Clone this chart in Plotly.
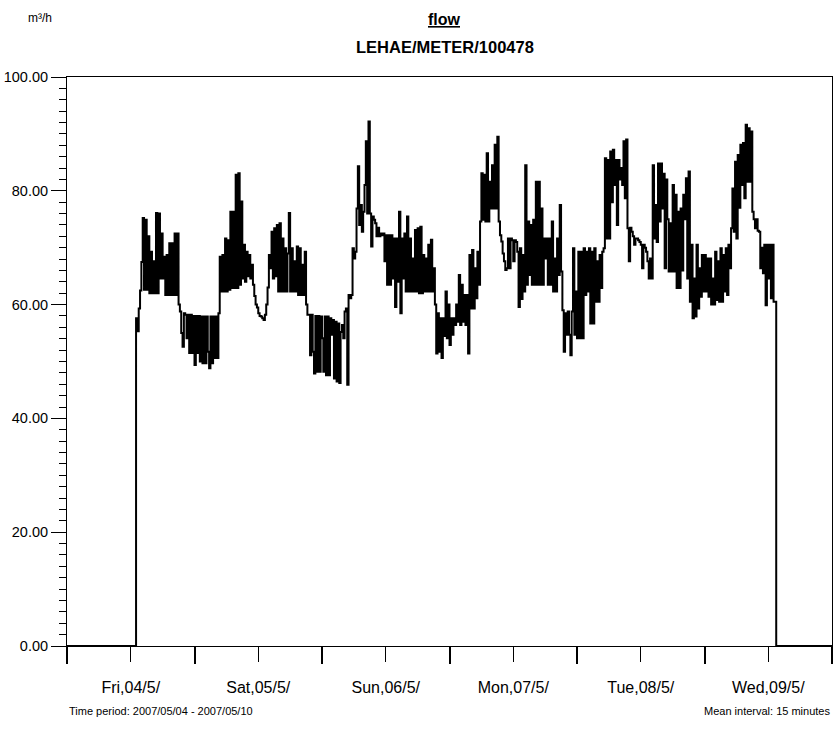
import pandas as pd
import plotly.graph_objects as go

# 15-minute mean flow values (m³/h), starting Fri 2007-05-04 13:00
flow_fri = [57.6, 55.3, 59.3, 62.5, 67.5, 75.2, 62.6, 74.9, 62.6, 72.0, 62.0, 69.3, 62.0, 67.6, 62.0,
            76.1, 62.0, 76.0, 64.6, 72.5, 64.6, 68.4, 61.7, 68.7, 61.7, 70.8, 61.7, 70.8, 61.7, 72.5,
            61.7, 72.5, 60.0, 58.8, 55.0, 52.6, 58.5, 58.2, 54.1, 58.2, 51.5, 58.2, 51.5, 58.0]
flow_sat = [49.4, 58.0, 51.5, 58.0, 50.0, 57.9, 49.7, 57.9, 49.7, 57.9, 51.7, 48.8, 57.9, 49.7, 57.9,
            50.6, 57.9, 50.6, 58.5, 68.4, 62.3, 68.7, 62.3, 71.6, 62.3, 71.3, 62.6, 76.3, 62.9, 76.3,
            62.9, 82.8, 62.9, 83.1, 63.5, 78.1, 64.6, 70.5, 64.0, 69.3, 65.0, 68.7, 64.6, 67.0, 63.5,
            61.5, 60.0, 59.5, 58.5, 58.0, 57.9, 57.6, 57.3, 58.2, 60.0, 63.0, 68.7, 66.4, 72.8, 64.6,
            73.4, 65.0, 74.0, 62.3, 74.3, 62.3, 71.6, 62.3, 69.9, 62.3, 69.0, 76.1, 62.3, 69.9, 62.3,
            67.6, 62.3, 70.2, 61.7, 69.9, 61.7, 67.0, 61.7, 69.3, 60.0, 58.2, 58.2, 51.1, 58.2, 51.7,
            47.9, 58.0, 48.2, 58.0, 48.2, 57.9]
flow_sun = [54.1, 48.2, 57.9, 47.6, 57.9, 47.6, 57.6, 54.7, 57.3, 47.0, 57.0, 46.5, 56.7, 46.2, 55.2,
            56.4, 54.1, 58.8, 59.3, 45.9, 61.7, 61.1, 61.7, 69.9, 68.1, 69.3, 76.9, 84.3, 74.0, 77.5,
            72.8, 76.3, 81.0, 88.7, 76.0, 92.2, 76.0, 70.2, 75.5, 74.9, 74.3, 72.0, 73.5, 72.0, 72.5,
            72.2, 72.5, 67.6, 72.2, 63.5, 72.2, 63.5, 72.2, 64.6, 71.6, 59.6, 71.6, 64.0, 76.3, 58.5,
            71.6, 64.6, 72.5, 62.3, 75.5, 62.3, 71.6, 62.3, 68.1, 62.3, 73.1, 62.3, 73.4, 62.0, 73.7,
            62.0, 68.7, 62.3, 68.1, 62.3, 70.5, 62.3, 71.4, 62.3, 66.4, 60.0, 51.4, 58.5, 51.7, 57.6,
            50.6, 57.6, 54.5, 62.3, 54.1, 60.0]
flow_mon = [52.9, 57.6, 54.7, 57.6, 56.4, 60.0, 57.0, 65.2, 56.4, 63.5, 57.0, 61.7, 56.4, 61.7, 51.4,
            68.7, 59.3, 69.6, 59.3, 66.4, 61.1, 69.3, 63.5, 74.6, 83.1, 74.9, 82.8, 74.6, 86.6, 74.6,
            81.6, 76.9, 84.5, 76.9, 88.1, 76.9, 89.5, 74.6, 72.2, 71.1, 69.0, 67.6, 66.1, 66.4, 71.6,
            66.4, 71.6, 71.3, 67.6, 71.3, 71.0, 69.3, 59.6, 69.9, 61.0, 68.7, 62.3, 84.5, 63.5, 74.6,
            65.2, 74.0, 63.5, 74.9, 63.5, 81.6, 63.5, 81.6, 63.5, 76.9, 63.5, 71.6, 68.1, 71.6, 63.5,
            71.6, 63.5, 74.6, 62.3, 68.1, 62.3, 71.6, 65.2, 77.5, 65.8, 59.0, 51.7, 58.5, 54.7, 58.8,
            54.7, 51.1, 58.8, 69.9, 54.7, 62.3]
flow_tue = [54.1, 69.3, 54.1, 69.3, 54.1, 69.9, 61.7, 69.3, 62.3, 69.9, 56.7, 69.3, 56.7, 69.9, 60.5,
            67.6, 60.5, 68.7, 62.9, 69.3, 69.9, 85.7, 71.6, 85.4, 71.6, 86.9, 78.0, 87.2, 81.0, 85.4,
            74.0, 85.4, 82.0, 84.0, 81.0, 88.7, 78.7, 89.0, 73.4, 67.6, 73.5, 72.8, 72.0, 70.5, 71.6,
            71.6, 71.3, 71.0, 70.5, 66.4, 70.5, 70.0, 69.3, 67.6, 64.6, 68.1, 64.6, 84.5, 71.6, 77.5,
            71.0, 84.8, 74.6, 84.8, 76.9, 83.0, 66.4, 82.0, 75.0, 65.8, 74.3, 65.8, 81.0, 65.8, 79.3,
            62.9, 76.3, 62.9, 76.9, 66.0, 79.3, 75.0, 82.2, 64.6, 83.4, 60.5, 70.5, 57.6, 64.6, 57.9,
            70.5, 59.3, 66.4, 61.4, 68.7, 62.3]
flow_wed = [68.7, 62.3, 68.1, 61.4, 68.1, 60.0, 64.6, 60.0, 69.3, 60.8, 67.6, 60.5, 69.9, 60.5, 68.7,
            62.3, 69.9, 61.7, 70.5, 66.4, 73.4, 80.4, 72.8, 85.1, 71.6, 86.3, 77.0, 88.1, 81.0, 88.4,
            78.7, 91.6, 81.6, 91.0, 81.6, 90.4, 76.3, 75.0, 73.4, 75.0, 73.0, 72.8, 66.4, 70.0, 65.5,
            70.5, 59.9, 70.5, 64.6, 70.5, 61.1, 70.5, 60.5, 60.5]

series_start = "2007-05-04 13:00"
period_start = "2007-05-04 00:00"
period_end = "2007-05-10 00:00"
y_ticks = [0, 20, 40, 60, 80, 100]

flow = flow_fri + flow_sat + flow_sun + flow_mon + flow_tue + flow_wed
times = list(pd.date_range(series_start, periods=len(flow), freq="15min"))
t_off = times[-1] + pd.Timedelta(minutes=15)

x = [pd.Timestamp(period_start)] + times + [t_off, pd.Timestamp(period_end)]
y = [0] + flow + [0, 0]

FONT = "Liberation Sans, Arial, sans-serif"

fig = go.Figure()
fig.add_trace(go.Scatter(x=x, y=y, mode="lines", line=dict(color="black", width=2, shape="hv"),
                         hoverinfo="skip", showlegend=False))

fig.update_layout(
    width=834, height=734,
    margin=dict(l=67, r=2, t=77, b=88),
    paper_bgcolor="white", plot_bgcolor="white",
    font=dict(family=FONT, color="black", size=15),
    showlegend=False,
)

fig.update_xaxes(
    type="date", range=[period_start, period_end], automargin=False,
    tick0=period_start, dtick=86400000, ticklabelmode="period",
    tickformat="%a,%d/%-m/",
    ticks="outside", ticklen=17, tickwidth=2, tickcolor="black",
    ticklabelstandoff=10,
    minor=dict(tick0="2007-05-04 12:00", dtick=86400000, ticks="outside", ticklen=15,
               tickwidth=1, tickcolor="black", showgrid=False),
    showgrid=False, zeroline=False,
    showline=True, linecolor="black", linewidth=1, mirror=True,
    tickfont=dict(family=FONT, size=16, color="black"),
)

fig.update_yaxes(
    range=[0, 100], tickvals=y_ticks, tickformat=".2f", automargin=False,
    ticks="outside", ticklen=15, tickwidth=1, tickcolor="black",
    minor=dict(dtick=2, ticks="outside", ticklen=7, tickwidth=1, tickcolor="black", showgrid=False),
    showgrid=False, zeroline=False,
    showline=True, linecolor="black", linewidth=1, mirror=True,
    tickfont=dict(family=FONT, size=14.5, color="black"),
)

def py(p):
    return (646 - p) / 569.0

fig.add_annotation(text="<b><u>flow</u></b>", xref="paper", yref="paper", x=0.494, y=py(20),
                   showarrow=False, font=dict(family=FONT, size=16), xanchor="center", yanchor="middle")
fig.add_annotation(text="<b>LEHAE/METER/100478</b>", xref="paper", yref="paper", x=0.494, y=py(47),
                   showarrow=False, font=dict(family=FONT, size=16.5), xanchor="center", yanchor="middle")
fig.add_annotation(text="m³/h", xref="paper", yref="paper", x=(40 - 67) / 765, y=py(18),
                   showarrow=False, font=dict(family=FONT, size=12), xanchor="center", yanchor="middle")
fig.add_annotation(text="Time period: 2007/05/04 - 2007/05/10", xref="paper", yref="paper", x=0, y=py(711),
                   showarrow=False, font=dict(family=FONT, size=11), xanchor="left", yanchor="middle")
fig.add_annotation(text="Mean interval: 15 minutes", xref="paper", yref="paper", x=1, y=py(711),
                   showarrow=False, font=dict(family=FONT, size=11), xanchor="right", yanchor="middle")

fig.write_html("out.html", config={"displayModeBar": False},
               post_script="document.body.style.margin='0';")
